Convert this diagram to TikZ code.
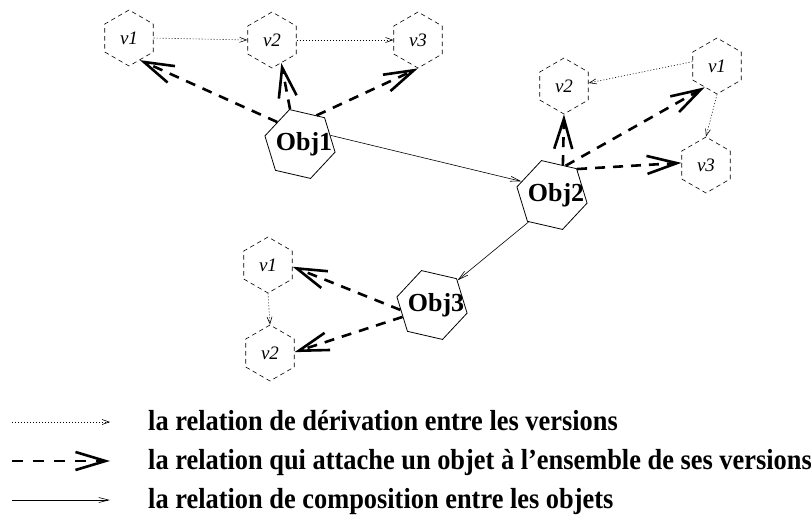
\documentclass[tikz,border=0pt]{standalone}
\usepackage{fontspec}
\setmainfont{Liberation Serif}
\usetikzlibrary{arrows.meta,shapes.geometric}

% object name, set slightly right of the hexagon's centre without widening it
\newcommand{\objname}[1]{\makebox[0pt][c]{\hspace*{8pt}#1}}

\begin{document}
\begin{tikzpicture}[x=1pt,y=-1pt,
  versionbox/.style={regular polygon, regular polygon sides=6,
    regular polygon rotate=30, minimum size=56pt, inner sep=0pt,
    draw, line width=0.6pt, dash pattern=on 4.5pt off 3.5pt,
    font=\fontsize{19}{19}\selectfont\itshape},
  objbox/.style={regular polygon, regular polygon sides=6,
    regular polygon rotate=-13, minimum size=72pt, inner sep=0pt,
    draw, line width=0.8pt, font=\fontsize{26}{26}\selectfont\bfseries},
  derive/.style={line width=0.6pt, dash pattern=on 1pt off 2pt,
    -{Straight Barb[length=7pt,width=5pt]}},
  attach/.style={line width=2.6pt, dash pattern=on 10pt off 8pt,
    -{Straight Barb[length=30pt,width=18pt]}},
  compose/.style={line width=0.6pt, -{Straight Barb[length=10pt,width=5pt]}},
  legendtext/.style={anchor=base west, inner sep=0pt,
    font=\fontsize{29}{29}\selectfont\bfseries},
]
\useasboundingbox (0,0) rectangle (811,515);

% objects
\node[objbox] (o1) at (300,144) {\objname{Obj1}};
\node[objbox] (o2) at (552,195) {\objname{Obj2}};
\node[objbox] (o3) at (432,305) {\objname{Obj3}};

% versions of Obj1
\node[versionbox] (a1) at (129,38) {v1};
\node[versionbox] (a2) at (272,40) {v2};
\node[versionbox] (a3) at (418,40) {v3};

% versions of Obj2
\node[versionbox] (b1) at (717,66) {v1};
\node[versionbox] (b2) at (564,86) {v2};
\node[versionbox] (b3) at (706,165) {v3};

% versions of Obj3
\node[versionbox] (c1) at (268,265) {v1};
\node[versionbox] (c2) at (270,353) {v2};

% derivation between versions
\draw[derive] (a1.0) -- (a2.180);
\draw[derive] (a2.0) -- (a3.180);
\draw[derive] (b1.170) -- (b2.7);
\draw[derive] (b1.-90) -- (b3.90);
\draw[derive] (c1.-90) -- (c2.90);

% object attached to its versions
\draw[attach] (o1.136) -- (a1.-64);
\draw[attach] (o1.106) -- (a2.-68);
\draw[attach] (o1.60) -- (a3.-90);
\draw[attach] (o2.70) -- (b2.-90);
\draw[attach] (o2.65) -- (b1.-120);
\draw[attach] (o2.46) -- (b3.175);
\draw[attach] (o3.189) -- (c1.-4);
\draw[attach] (o3.202) -- (c2.2);

% composition between objects
\draw[compose] (o1.16) -- (o2.156);
\draw[compose] (o2.229) -- (o3.44);

% legend
\coordinate (l1a) at (12,422);  \coordinate (l1b) at (110,422);
\coordinate (l2a) at (12,461);  \coordinate (l2b) at (110,461);
\coordinate (l3a) at (12,500);  \coordinate (l3b) at (110,500);
\draw[derive] (l1a) -- (l1b);
\draw[attach, dash pattern=on 11pt off 10pt] (l2a) -- (l2b);
\draw[compose] (l3a) -- (l3b);
\node[legendtext] (t1) at (148,430) {\scalebox{0.91}[1]{la relation de dérivation entre les versions}};
\node[legendtext] (t2) at (148,469) {\scalebox{0.91}[1]{la relation qui attache un objet à l’ensemble de ses versions}};
\node[legendtext] (t3) at (148,508) {\scalebox{0.91}[1]{la relation de composition entre les objets}};
\end{tikzpicture}
\end{document}
